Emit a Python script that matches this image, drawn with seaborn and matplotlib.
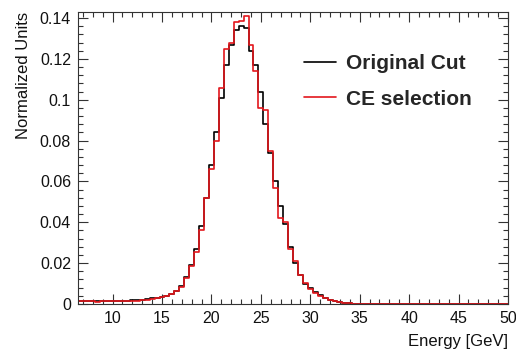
import numpy as np
import pandas as pd
import matplotlib
matplotlib.use("Agg")
import matplotlib.pyplot as plt
import seaborn as sns
from matplotlib.lines import Line2D
from matplotlib.ticker import MultipleLocator

# Bin centres (0.5 GeV bins)
centers = np.arange(6.5, 50.01, 0.5)

original_cut = [
    0.0016, 0.0015, 0.0015, 0.0014, 0.0015, 0.0014, 0.0015, 0.0015, 0.0016, 0.0016,
    0.0017, 0.0018, 0.0019, 0.0022, 0.0024, 0.0027, 0.0030, 0.0034, 0.0040, 0.0050,
    0.0065, 0.0090, 0.0130, 0.0190, 0.0270, 0.0380, 0.0520, 0.0680, 0.0840, 0.1010,
    0.1170, 0.1270, 0.1340, 0.1360, 0.1350, 0.1240, 0.1170, 0.1040, 0.0880, 0.0740,
    0.0600, 0.0480, 0.0390, 0.0280, 0.0200, 0.0140, 0.0100, 0.0078, 0.0058, 0.0042,
    0.0030, 0.0022, 0.0015, 0.0010, 0.0007, 0.0004, 0.0002, 0.0001,
    0, 0, 0, 0, 0, 0, 0, 0, 0, 0, 0, 0, 0, 0, 0, 0, 0, 0, 0, 0, 0, 0, 0, 0, 0, 0, 0, 0, 0, 0,
]

ce_selection = [
    0.0014, 0.0013, 0.0013, 0.0013, 0.0012, 0.0013, 0.0013, 0.0014, 0.0014, 0.0015,
    0.0015, 0.0016, 0.0017, 0.0019, 0.0022, 0.0025, 0.0028, 0.0032, 0.0038, 0.0048,
    0.0062, 0.0085, 0.0125, 0.0185, 0.0255, 0.0360, 0.0520, 0.0660, 0.0800, 0.1060,
    0.1250, 0.1280, 0.1380, 0.1385, 0.1410, 0.1270, 0.1140, 0.0960, 0.0950, 0.0750,
    0.0570, 0.0420, 0.0400, 0.0270, 0.0210, 0.0140, 0.0105, 0.0075, 0.0055, 0.0040,
    0.0029, 0.0020, 0.0014, 0.0009, 0.0006, 0.0004, 0.0002, 0.0001,
    0, 0, 0, 0, 0, 0, 0, 0, 0, 0, 0, 0, 0, 0, 0, 0, 0, 0, 0, 0, 0, 0, 0, 0, 0, 0, 0, 0, 0, 0,
]

series_names = ["Original Cut", "CE selection"]
series_colors = ["#000000", "#e3171c"]

sns.set_style("ticks")
plt.rcParams['font.family'] = ['Liberation Sans', 'DejaVu Sans']

edges = [float(c - 0.25) for c in centers] + [float(centers[-1] + 0.25)]

fig = plt.figure(figsize=(5.16, 3.56), dpi=100)
ax = fig.add_axes([78 / 516, 1 - 304 / 356, 430 / 516, 292 / 356])

for name, col, vals in zip(series_names, series_colors, [original_cut, ce_selection]):
    sub = pd.DataFrame({"energy": centers, "w": np.asarray(vals, dtype=float)})
    sns.histplot(data=sub, x="energy", weights="w", bins=edges, element="step",
                 fill=False, color=col, linewidth=1.2, ax=ax)

ax.set_xlim(6.5, 50)
ax.set_ylim(0, 0.143)
ax.xaxis.set_major_locator(MultipleLocator(5))
ax.xaxis.set_minor_locator(MultipleLocator(1))
ax.set_yticks([0, 0.02, 0.04, 0.06, 0.08, 0.1, 0.12, 0.14])
ax.set_yticklabels(["0", "0.02", "0.04", "0.06", "0.08", "0.1", "0.12", "0.14"])
ax.yaxis.set_minor_locator(MultipleLocator(0.004))
ax.tick_params(which="both", direction="in", top=True, right=True, labelsize=11.5,
               color="#333333", width=0.8, labelcolor="#111111")
ax.tick_params(which="major", length=7, pad=5)
ax.tick_params(which="minor", length=3.5)
for s in ax.spines.values():
    s.set_linewidth(0.8)
    s.set_color("#333333")

ax.set_xlabel("Energy [GeV]", fontsize=12, loc="right", labelpad=6, color="#111111")
ax.set_ylabel("Normalized Units", fontsize=12, loc="top", labelpad=6, color="#111111")

handles = [Line2D([0], [0], color=c, lw=1.2) for c in series_colors]
leg = fig.legend(handles, series_names, loc="upper left",
                 bbox_to_anchor=(304 / 516, 1 - 54 / 356), frameon=False,
                 prop={"weight": "bold", "size": 15}, handlelength=1.55,
                 handletextpad=0.45, labelspacing=0.8, borderpad=0, borderaxespad=0)

fig.savefig("out.png", dpi=100)
